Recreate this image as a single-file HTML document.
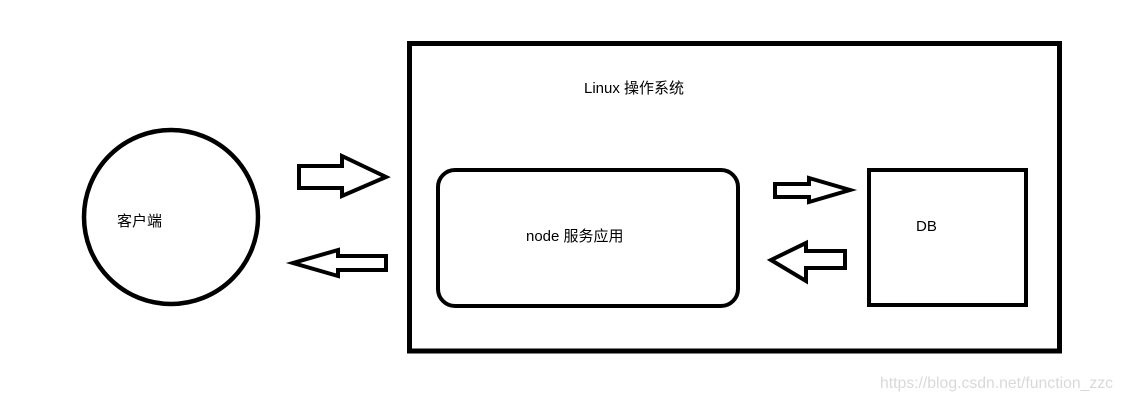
<!DOCTYPE html>
<html><head><meta charset="utf-8"><style>
html,body{margin:0;padding:0;background:#fff;}
svg{display:block;}
text{font-family:"Liberation Sans","Noto Sans CJK SC",sans-serif;font-size:15px;fill:#000;}
</style></head><body>
<svg width="1123" height="402" viewBox="0 0 1123 402" xmlns="http://www.w3.org/2000/svg">
<rect x="409.5" y="43.5" width="650" height="307.5" fill="none" stroke="#000" stroke-width="5"/>
<circle cx="171" cy="217" r="87" fill="none" stroke="#000" stroke-width="4.5"/>
<rect x="438" y="170" width="300" height="136" rx="17" ry="17" fill="none" stroke="#000" stroke-width="4"/>
<rect x="869" y="170" width="157" height="135" fill="none" stroke="#000" stroke-width="4"/>
<g fill="none" stroke="#000" stroke-width="4" stroke-linejoin="miter">
<polygon points="299,166 342,166 342,156 386,177 342,196 342,188 299,188"/>
<polygon points="386,256 338,256 338,250 293,263 338,276 338,270 386,270"/>
<polygon points="775,184 809,184 809,178 850,190 809,202 809,197 775,197"/>
<polygon points="845,251 806,251 806,243 771,260 806,281 806,268 845,268"/>
</g>
<text x="584" y="93">Linux 操作系统</text>
<text x="117" y="226">客户端</text>
<text x="526" y="241">node 服务应用</text>
<text x="916" y="231">DB</text>
<text x="880" y="388" style="fill:#d9d9d9;font-size:16px" textLength="233" lengthAdjust="spacingAndGlyphs">https://blog.csdn.net/function_zzc</text>
</svg>
</body></html>
